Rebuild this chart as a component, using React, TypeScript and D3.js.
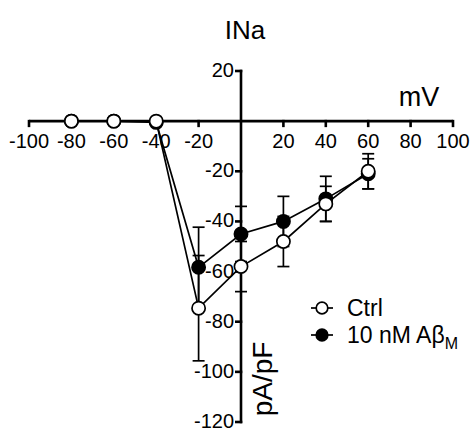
import React, { useEffect, useRef } from 'react';
import * as d3 from 'd3';

// I-V relation, membrane potential (mV) vs current density (pA/pF)
const voltages = [-80, -60, -40, -20, 0, 20, 40, 60];
const ctrlMean = [0, 0, 0, -74.6, -58, -48, -33, -20];
const ctrlSem = [0, 0, 0, 21, 10, 10, 7, 7];
const abMean = [0, 0, -0.5, -58.3, -45, -40, -31, -21];
const abSem = [0, 0, 0, 16, 11, 10, 9, 6];

const xTicks = [-100, -80, -60, -40, -20, 20, 40, 60, 80, 100];
const yTicks = [20, -20, -40, -60, -80, -100, -120];

const FONT = '"Liberation Sans", Arial, sans-serif';

function App() {
  const svgRef = useRef<SVGSVGElement>(null);

  useEffect(() => {
    const width = 473;
    const height = 432;
    const svg = d3.select(svgRef.current)
      .attr('width', width)
      .attr('height', height);
    svg.selectAll('*').remove();

    const x = d3.scaleLinear().domain([-100, 100]).range([29, 453]);
    const y = d3.scaleLinear().domain([20, -120]).range([71, 422]);
    const x0 = x(0);
    const y0 = y(0);

    const axisW = 2.6;
    const tickLen = 6;

    // x axis (crosses at 0)
    svg.append('line')
      .attr('x1', x(-100)).attr('x2', x(100))
      .attr('y1', y0).attr('y2', y0)
      .attr('stroke', '#000').attr('stroke-width', axisW);
    xTicks.forEach(t => {
      svg.append('line')
        .attr('x1', x(t)).attr('x2', x(t))
        .attr('y1', y0 - axisW / 2).attr('y2', y0 + tickLen)
        .attr('stroke', '#000').attr('stroke-width', axisW);
      svg.append('text')
        .attr('x', x(t)).attr('y', y0 + 27)
        .attr('text-anchor', 'middle')
        .attr('font-family', FONT).attr('font-size', 20)
        .text(String(t));
    });

    // y axis (crosses at 0)
    svg.append('line')
      .attr('x1', x0).attr('x2', x0)
      .attr('y1', y(20) - axisW / 2).attr('y2', y(-120) + axisW / 2)
      .attr('stroke', '#000').attr('stroke-width', axisW);
    yTicks.forEach(t => {
      svg.append('line')
        .attr('x1', x0 - tickLen).attr('x2', x0 + axisW / 2)
        .attr('y1', y(t)).attr('y2', y(t))
        .attr('stroke', '#000').attr('stroke-width', axisW);
      svg.append('text')
        .attr('x', x0 - 7).attr('y', y(t) + 6)
        .attr('text-anchor', 'end')
        .attr('font-family', FONT).attr('font-size', 20)
        .text(String(t));
    });

    // titles
    svg.append('text')
      .attr('x', 245).attr('y', 39)
      .attr('text-anchor', 'middle')
      .attr('font-family', FONT).attr('font-size', 26)
      .text('INa');
    svg.append('text')
      .attr('x', 419).attr('y', 106)
      .attr('text-anchor', 'middle')
      .attr('font-family', FONT).attr('font-size', 27)
      .text('mV');
    svg.append('text')
      .attr('transform', `translate(272,379) rotate(-90)`)
      .attr('text-anchor', 'middle')
      .attr('font-family', FONT).attr('font-size', 28)
      .text('pA/pF');

    const series = [
      { name: 'ab', mean: abMean, sem: abSem, fill: '#000' },
      { name: 'ctrl', mean: ctrlMean, sem: ctrlSem, fill: '#fff' },
    ];

    const line = d3.line<number>()
      .x((_, i) => x(voltages[i]))
      .y(d => y(d));

    series.forEach(s => {
      const g = svg.append('g');
      g.append('path')
        .attr('d', line(s.mean))
        .attr('fill', 'none')
        .attr('stroke', '#000')
        .attr('stroke-width', 1.7);

      s.mean.forEach((m, i) => {
        if (!s.sem[i]) return;
        const cx = x(voltages[i]);
        const lo = y(m - s.sem[i]);
        const hi = y(m + s.sem[i]);
        g.append('line')
          .attr('x1', cx).attr('x2', cx).attr('y1', lo).attr('y2', hi)
          .attr('stroke', '#000').attr('stroke-width', 1.7);
        [lo, hi].forEach(cy => {
          g.append('line')
            .attr('x1', cx - 6).attr('x2', cx + 6).attr('y1', cy).attr('y2', cy)
            .attr('stroke', '#000').attr('stroke-width', 1.7);
        });
      });

      s.mean.forEach((m, i) => {
        g.append('circle')
          .attr('cx', x(voltages[i])).attr('cy', y(m))
          .attr('r', 6.6)
          .attr('fill', s.fill)
          .attr('stroke', '#000')
          .attr('stroke-width', 1.7);
      });
    });

    // legend
    const legend = [
      { label: 'Ctrl', fill: '#fff', yPos: 308 },
      { label: '10 nM Aβ', sub: 'M', fill: '#000', yPos: 335 },
    ];
    legend.forEach(l => {
      svg.append('line')
        .attr('x1', 311).attr('x2', 333).attr('y1', l.yPos).attr('y2', l.yPos)
        .attr('stroke', '#000').attr('stroke-width', 1.7);
      svg.append('circle')
        .attr('cx', 322).attr('cy', l.yPos).attr('r', 5.8)
        .attr('fill', l.fill).attr('stroke', '#000').attr('stroke-width', 1.7);
      const t = svg.append('text')
        .attr('x', 347).attr('y', l.yPos + 8)
        .attr('font-family', FONT).attr('font-size', 23)
        .text(l.label);
      if (l.sub) {
        t.append('tspan')
          .attr('dy', 6).attr('font-size', 16)
          .text(l.sub);
      }
    });
  }, []);

  return (
    <svg ref={svgRef} style={{ position: 'absolute', left: 0, top: 0, background: '#fff' }} />
  );
}

export default App;
